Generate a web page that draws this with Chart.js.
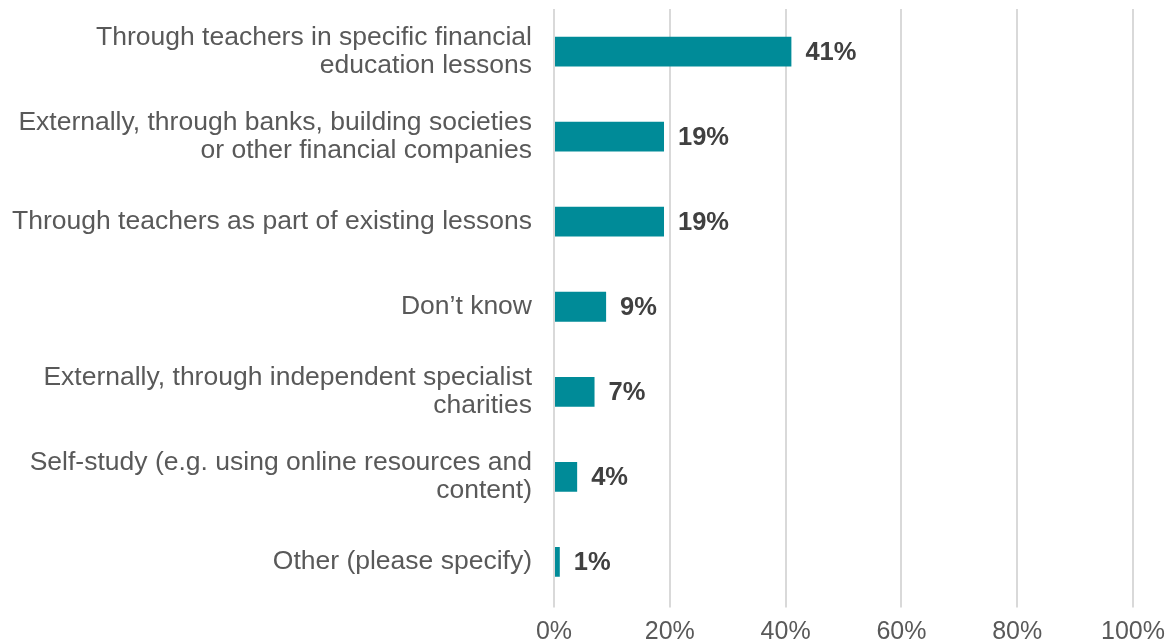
<!DOCTYPE html>
<html>
<head>
<meta charset="utf-8">
<script src="https://cdn.jsdelivr.net/npm/chart.js@4/dist/chart.umd.min.js"></script>
<style>
  html, body { margin: 0; padding: 0; background: #ffffff; }
  #wrap { width: 1168px; height: 642px; position: relative; }
</style>
</head>
<body>
<div id="wrap"><canvas id="chart"></canvas></div>
<script>
// Survey answers: how financial education is delivered
const categories = [
  ["Through teachers in specific financial", "education lessons"],
  ["Externally, through banks, building societies", "or other financial companies"],
  "Through teachers as part of existing lessons",
  "Don\u2019t know",
  ["Externally, through independent specialist", "charities"],
  ["Self-study (e.g. using online resources and", "content)"],
  "Other (please specify)"
];
const shares = [41, 19, 19, 9, 7, 4, 1];
const xTicks = [0, 20, 40, 60, 80, 100];

const FONT = "'Liberation Sans', Arial, Helvetica, sans-serif";

// Writes the percentage just past the end of each bar
const valueLabels = {
  id: 'valueLabels',
  afterDatasetsDraw(chart) {
    const ctx = chart.ctx;
    const meta = chart.getDatasetMeta(0);
    ctx.save();
    ctx.font = "bold 25.5px " + FONT;
    ctx.fillStyle = '#404040';
    ctx.textAlign = 'left';
    ctx.textBaseline = 'middle';
    meta.data.forEach((bar, i) => {
      ctx.fillText(shares[i] + '%', bar.x + 14, bar.y + 1);
    });
    ctx.restore();
  }
};

new Chart(document.getElementById('chart'), {
  type: 'bar',
  data: {
    labels: categories,
    datasets: [{
      data: shares,
      backgroundColor: '#008b98',
      borderWidth: 0,
      barPercentage: 0.7,
      categoryPercentage: 0.5
    }]
  },
  options: {
    indexAxis: 'y',
    responsive: true,
    maintainAspectRatio: false,
    animation: false,
    layout: { padding: { top: 9, right: 0, bottom: 0, left: 0 } },
    plugins: {
      legend: { display: false },
      tooltip: { enabled: false }
    },
    scales: {
      x: {
        min: 0,
        max: 100,
        afterBuildTicks(scale) {
          scale.ticks = xTicks.map(v => ({ value: v }));
        },
        afterFit(scale) {
          scale.height = 37.5;
          scale.paddingRight = 35;
        },
        grid: {
          color: '#d9d9d9',
          lineWidth: 2,
          drawTicks: true,
          tickLength: 3
        },
        border: { display: false },
        ticks: {
          color: '#595959',
          padding: 10,
          font: { family: FONT, size: 25 },
          callback: v => v + '%'
        }
      },
      y: {
        afterFit(scale) {
          scale.width = 554;
          scale.paddingTop = 0;
          scale.paddingBottom = 0;
        },
        grid: { display: false, drawTicks: false },
        border: { display: false },
        ticks: {
          color: '#595959',
          padding: 22,
          font: { family: FONT, size: 26.5, lineHeight: 1.05 }
        }
      }
    }
  },
  plugins: [valueLabels]
});
</script>
</body>
</html>
